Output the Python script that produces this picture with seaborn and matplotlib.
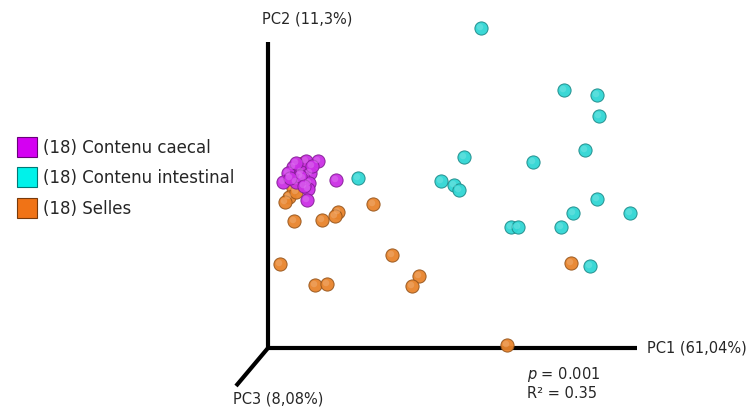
"""Pseudo-3D PCoA plot of caecal / intestinal / stool samples."""

import matplotlib
import matplotlib.pyplot as plt
import numpy as np
import pandas as pd
import seaborn as sns
from matplotlib.lines import Line2D

matplotlib.use("Agg")

# projected coordinates (screen units, origin at the axes corner)
caecal_x = [38, 50, 25, 20, 33, 42, 35, 15, 28, 41, 40, 39, 68, 32, 28, 36, 22, 44]
caecal_y = [187, 187, 181, 175, 176, 175, 170, 166, 166, 165, 159, 148, 168, 172, 185, 162, 170, 182]

intestinal_x = [213, 296, 329, 331, 317, 196, 265, 173, 186, 191, 329, 305, 362, 243, 250, 293, 322, 90]
intestinal_y = [320, 258, 253, 232, 198, 191, 186, 167, 163, 158, 149, 135, 135, 121, 121, 121, 82, 170]

selles_x = [35, 25, 21, 17, 105, 70, 67, 26, 54, 124, 12, 151, 144, 47, 59, 303, 239, 28]
selles_y = [185, 160, 151, 146, 144, 136, 132, 127, 128, 93, 84, 72, 62, 63, 64, 85, 3, 156]

groups = ["(18) Contenu caecal", "(18) Contenu intestinal", "(18) Selles"]
point_colors = ["#cc30e6", "#30d6d4", "#e8842c"]
legend_colors = ["#d400f2", "#00f2ea", "#f07316"]

axis_labels = ["PC1 (61,04%)", "PC2 (11,3%)", "PC3 (8,08%)"]
stats_text = ["$p$ = 0.001", "R² = 0.35"]

frame = pd.concat(
    [
        pd.DataFrame({"pc1": selles_x, "pc2": selles_y, "group": groups[2]}),
        pd.DataFrame({"pc1": intestinal_x, "pc2": intestinal_y, "group": groups[1]}),
        pd.DataFrame({"pc1": caecal_x, "pc2": caecal_y, "group": groups[0]}),
    ],
    ignore_index=True,
)


def _shade(color, factor):
    rgb = np.array(matplotlib.colors.to_rgb(color))
    if factor < 0:
        return tuple(rgb * (1 + factor))
    return tuple(rgb + (1 - rgb) * factor)


sns.set_theme(style="white")
plt.rcParams["font.family"] = ["DejaVu Sans"]

fig = plt.figure(figsize=(7.5, 4.08), dpi=100)
ax = fig.add_axes([0, 0, 1, 1])
ax.set_xlim(-268, 482)
ax.set_ylim(-60, 348)
ax.axis("off")

# axes of the 3D frame
ax.plot([0, 369], [0, 0], color="black", lw=3, solid_capstyle="butt", zorder=1)
ax.plot([0, 0], [0, 306], color="black", lw=3, solid_capstyle="butt", zorder=1)
ax.plot([0, -32], [0, -38], color="black", lw=3, solid_capstyle="butt", zorder=1)

# spheres: darker rim, base colour, soft highlight
for order, name in enumerate([groups[2], groups[1], groups[0]]):
    color = point_colors[groups.index(name)]
    subset = frame[frame["group"] == name]
    sns.scatterplot(
        data=subset, x="pc1", y="pc2", color=color, s=90,
        edgecolor=_shade(color, -0.35), linewidth=0.7, alpha=0.95,
        legend=False, ax=ax, zorder=3 + order,
    )
    sns.scatterplot(
        data=subset.assign(pc1=subset["pc1"] - 1.0, pc2=subset["pc2"] + 1.0),
        x="pc1", y="pc2", color=_shade(color, 0.35), s=22,
        edgecolor="none", alpha=0.5, legend=False, ax=ax, zorder=3 + order,
    )

ax.text(379, 0, axis_labels[0], fontsize=10.5, va="center", ha="left")
ax.text(39, 329, axis_labels[1], fontsize=10.5, va="center", ha="center")
ax.text(-35, -51, axis_labels[2], fontsize=10.5, va="center", ha="left")
ax.text(259, -26, stats_text[0], fontsize=10.5, va="center", ha="left")
ax.text(259, -45, stats_text[1], fontsize=10.5, va="center", ha="left")

handles = [
    Line2D([], [], marker="s", linestyle="none", markersize=15,
           markerfacecolor=c, markeredgecolor=_shade(c, -0.5), markeredgewidth=0.8)
    for c in legend_colors
]
fig.legend(
    handles, groups, loc="center left", bbox_to_anchor=(0.0, 0.563),
    frameon=False, fontsize=12, handletextpad=0.3, labelspacing=0.75,
    handlelength=1.4,
)

fig.savefig("out.png", dpi=100)
